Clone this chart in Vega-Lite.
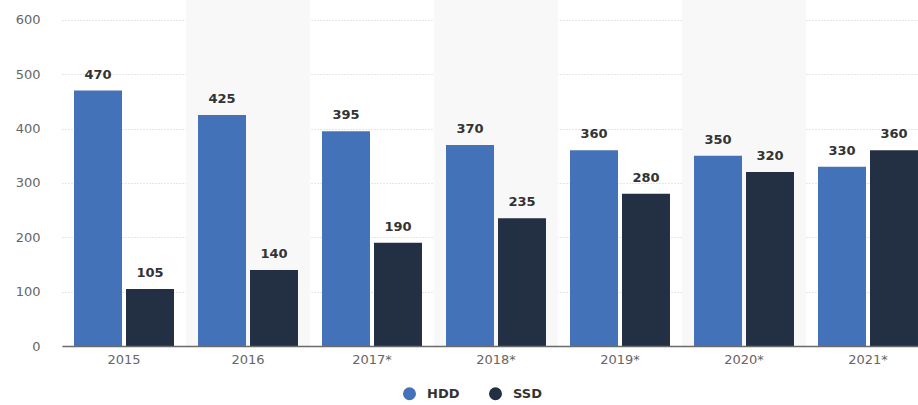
{
  "$schema": "https://vega.github.io/schema/vega-lite/v6.json",
  "width": 868,
  "height": 346,
  "autosize": {"type": "none"},
  "padding": {"left": 62, "top": 0, "right": 0, "bottom": 59},
  "background": "white",
  "config": {"view": {"stroke": null}, "font": "DejaVu Sans"},
  "datasets": {
    "bars": [
      {"year": "2015", "type": "HDD", "value": 470},
      {"year": "2015", "type": "SSD", "value": 105},
      {"year": "2016", "type": "HDD", "value": 425},
      {"year": "2016", "type": "SSD", "value": 140},
      {"year": "2017*", "type": "HDD", "value": 395},
      {"year": "2017*", "type": "SSD", "value": 190},
      {"year": "2018*", "type": "HDD", "value": 370},
      {"year": "2018*", "type": "SSD", "value": 235},
      {"year": "2019*", "type": "HDD", "value": 360},
      {"year": "2019*", "type": "SSD", "value": 280},
      {"year": "2020*", "type": "HDD", "value": 350},
      {"year": "2020*", "type": "SSD", "value": 320},
      {"year": "2021*", "type": "HDD", "value": 330},
      {"year": "2021*", "type": "SSD", "value": 360}
    ],
    "shade": [{"year": "2016"}, {"year": "2018*"}, {"year": "2020*"}]
  },
  "layer": [
    {
      "data": {"name": "shade"},
      "mark": {"type": "rect", "color": "#f8f8f8"},
      "encoding": {
        "x": {"field": "year", "type": "nominal", "sort": ["2015", "2016", "2017*", "2018*", "2019*", "2020*", "2021*"]}
      }
    },
    {
      "data": {"name": "bars"},
      "mark": {"type": "bar"},
      "encoding": {
        "x": {
          "field": "year", "type": "nominal", "sort": ["2015", "2016", "2017*", "2018*", "2019*", "2020*", "2021*"],
          "scale": {"domain": ["2015", "2016", "2017*", "2018*", "2019*", "2020*", "2021*"], "paddingInner": 0, "paddingOuter": 0},
          "axis": {"title": null, "labelAngle": 0, "labelAlign": "center", "labelColor": "#666666", "labelFontSize": 13, "labelPadding": 13, "ticks": false, "domainColor": "#6a6a6a", "domainWidth": 1.5}
        },
        "xOffset": {"field": "type", "type": "nominal", "scale": {"paddingInner": 0.077, "paddingOuter": 0.231}},
        "y": {
          "field": "value", "type": "quantitative",
          "scale": {"domain": [0, 636.7], "nice": false},
          "axis": {"title": null, "values": [0, 100, 200, 300, 400, 500, 600], "domain": false, "ticks": false, "labelPadding": 22, "labelColor": "#666666", "labelFontSize": 13, "gridColor": "#cccccc", "gridDash": [1, 2]}
        },
        "color": {
          "field": "type", "type": "nominal",
          "scale": {"domain": ["HDD", "SSD"], "range": ["#4472b9", "#232f43"]},
          "legend": {"title": null, "orient": "none", "legendX": 340, "legendY": 386, "direction": "horizontal", "symbolType": "circle", "symbolSize": 170, "labelFontSize": 13, "labelFontWeight": "bold", "labelColor": "#333333", "labelOffset": 10, "columnPadding": 28}
        }
      }
    },
    {
      "data": {"name": "bars"},
      "mark": {"type": "text", "dy": -16, "fontWeight": "bold", "fontSize": 13, "color": "#333333"},
      "encoding": {
        "x": {"field": "year", "type": "nominal", "sort": ["2015", "2016", "2017*", "2018*", "2019*", "2020*", "2021*"]},
        "xOffset": {"field": "type", "type": "nominal"},
        "y": {"field": "value", "type": "quantitative"},
        "text": {"field": "value", "type": "quantitative"}
      }
    }
  ]
}
